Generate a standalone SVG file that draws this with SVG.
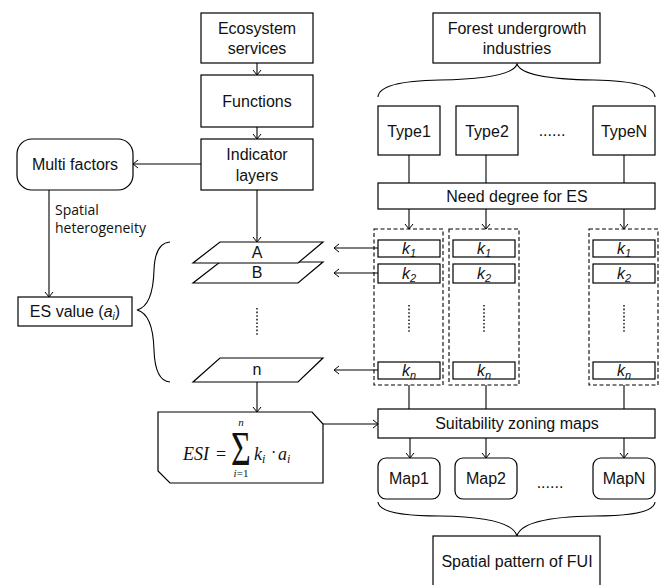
<svg xmlns="http://www.w3.org/2000/svg" width="666" height="585" viewBox="0 0 666 585">
<style>
.b{fill:#fff;stroke:#000;stroke-width:1.2}
.t{font-family:"Liberation Sans",Arial,sans-serif;font-size:16px;fill:#111;text-anchor:middle}
.c{fill:none;stroke:#000;stroke-width:1.1}
.d{fill:none;stroke:#000;stroke-width:1.1;stroke-dasharray:4,2.5}
.dots{fill:none;stroke:#222;stroke-width:1.6;stroke-dasharray:1.6,2}
.k{font-family:"Liberation Sans",Arial,sans-serif;font-size:16px;font-style:italic;fill:#111;text-anchor:middle}
.m{font-family:"Liberation Serif","Times New Roman",serif;font-style:italic;fill:#111}
.sh{font-family:"Open Sans","Noto Sans",sans-serif;font-size:14px;fill:#111}
</style>
<defs>
<marker id="ar" markerWidth="8" markerHeight="10" refX="6" refY="5" orient="auto" markerUnits="userSpaceOnUse">
<path d="M1,1 L6,5 L1,9" fill="none" stroke="#000" stroke-width="1"/>
</marker>
</defs>
<g id="connectors">
<line class="c" x1="257" y1="63" x2="257" y2="75" marker-end="url(#ar)"/>
<line class="c" x1="257" y1="127" x2="257" y2="139" marker-end="url(#ar)"/>
<line class="c" x1="201" y1="164" x2="133" y2="164" marker-end="url(#ar)"/>
<line class="c" x1="49" y1="190" x2="49" y2="297" marker-end="url(#ar)"/>
<line class="c" x1="257" y1="190" x2="257" y2="242" marker-end="url(#ar)"/>
<line class="c" x1="257" y1="382" x2="257" y2="412" marker-end="url(#ar)"/>
<line class="c" x1="378" y1="248" x2="334" y2="248" marker-end="url(#ar)"/>
<line class="c" x1="378" y1="273" x2="334" y2="273" marker-end="url(#ar)"/>
<line class="c" x1="378" y1="370" x2="334" y2="370" marker-end="url(#ar)"/>
<line class="c" x1="409" y1="155" x2="409" y2="183"/>
<line class="c" x1="486" y1="155" x2="486" y2="183"/>
<line class="c" x1="624" y1="155" x2="624" y2="183"/>
<line class="c" x1="409" y1="209" x2="409" y2="229" marker-end="url(#ar)"/>
<line class="c" x1="486" y1="209" x2="486" y2="229" marker-end="url(#ar)"/>
<line class="c" x1="624" y1="209" x2="624" y2="229" marker-end="url(#ar)"/>
<line class="c" x1="409" y1="385" x2="409" y2="409"/>
<line class="c" x1="486" y1="385" x2="486" y2="409"/>
<line class="c" x1="624" y1="385" x2="624" y2="409"/>
<line class="c" x1="323" y1="424" x2="378" y2="424" marker-end="url(#ar)"/>
<line class="c" x1="410" y1="438" x2="410" y2="458" marker-end="url(#ar)"/>
<line class="c" x1="486" y1="438" x2="486" y2="458" marker-end="url(#ar)"/>
<line class="c" x1="624" y1="438" x2="624" y2="458" marker-end="url(#ar)"/>
<path class="c" d="M378,97 Q379,81 440,80 Q512,79 517,64 Q522,79 594,80 Q654,81 655,97"/>
<path class="c" d="M378,502 Q379,516 440,516 Q512,517 517,536 Q522,517 594,516 Q654,516 655,502"/>
<path class="c" d="M170,242 Q155,243 154,270 Q153,306 137,310 Q153,314 154,350 Q155,381 170,382"/>
</g>
<g id="ecosystem-services"><rect class="b" x="201" y="13" width="112" height="50"/><text class="t" x="257" y="34">Ecosystem</text><text class="t" x="257" y="54">services</text></g>
<g id="functions"><rect class="b" x="201" y="75" width="112" height="52"/><text class="t" x="257" y="107">Functions</text></g>
<g id="indicator-layers"><rect class="b" x="201" y="139" width="112" height="51"/><text class="t" x="257" y="160">Indicator</text><text class="t" x="257" y="181">layers</text></g>
<g id="multi-factors"><rect class="b" x="17" y="139" width="116" height="51" rx="15"/><text class="t" x="75" y="170">Multi factors</text></g>
<g id="spatial-heterogeneity"><text class="sh" x="55" y="215">Spatial</text><text class="sh" x="55" y="233">heterogeneity</text></g>
<g id="es-value"><rect class="b" x="18" y="297" width="114" height="29"/><text class="t" x="75" y="317">ES value (<tspan font-style="italic">a</tspan><tspan font-style="italic" font-size="10" dy="3">i</tspan><tspan dy="-3">)</tspan></text></g>
<g id="layer-b"><polygon class="b" points="220,262 323,262 298,283 193,283"/><text class="t" x="257" y="278">B</text></g>
<g id="layer-a"><polygon class="b" points="220,242 323,242 298,263 193,263"/><text class="t" x="257" y="258">A</text></g>
<g id="layer-dots"><line class="dots" x1="257" y1="308" x2="257" y2="336"/></g>
<g id="layer-n"><polygon class="b" points="220,358 323,358 298,382 193,382"/><text class="t" x="257" y="375">n</text></g>
<g id="forest-undergrowth"><rect class="b" x="433" y="13" width="167" height="50"/><text class="t" x="517" y="34">Forest undergrowth</text><text class="t" x="517" y="54">industries</text></g>
<g id="type1"><rect class="b" x="378" y="106" width="62" height="49"/><text class="t" x="409" y="137">Type1</text></g>
<g id="type2"><rect class="b" x="456" y="106" width="62" height="49"/><text class="t" x="487" y="137">Type2</text></g>
<g id="type-dots"><text class="t" x="552" y="136">......</text></g>
<g id="typeN"><rect class="b" x="593" y="106" width="62" height="49"/><text class="t" x="624" y="137">TypeN</text></g>
<g id="need-degree"><rect class="b" x="378" y="183" width="277" height="26"/><text class="t" x="517" y="202">Need degree for ES</text></g>
<g id="k-col1"><rect class="d" x="374" y="229" width="69" height="156"/>
<rect class="b" x="378" y="240" width="62" height="17"/><text class="k" x="409" y="254">k<tspan font-size="11" dy="3">1</tspan></text>
<rect class="b" x="378" y="264" width="62" height="19"/><text class="k" x="409" y="279">k<tspan font-size="11" dy="3">2</tspan></text>
<line class="dots" x1="409" y1="305" x2="409" y2="333"/>
<rect class="b" x="378" y="362" width="62" height="17"/><text class="k" x="409" y="376">k<tspan font-size="11" dy="3">n</tspan></text></g>
<g id="k-col2"><rect class="d" x="449" y="229" width="70" height="156"/>
<rect class="b" x="453" y="240" width="62" height="17"/><text class="k" x="484" y="254">k<tspan font-size="11" dy="3">1</tspan></text>
<rect class="b" x="453" y="264" width="62" height="19"/><text class="k" x="484" y="279">k<tspan font-size="11" dy="3">2</tspan></text>
<line class="dots" x1="484" y1="305" x2="484" y2="333"/>
<rect class="b" x="453" y="362" width="62" height="17"/><text class="k" x="484" y="376">k<tspan font-size="11" dy="3">n</tspan></text></g>
<g id="k-colN"><rect class="d" x="589" y="229" width="69" height="156"/>
<rect class="b" x="593" y="240" width="62" height="17"/><text class="k" x="624" y="254">k<tspan font-size="11" dy="3">1</tspan></text>
<rect class="b" x="593" y="264" width="62" height="19"/><text class="k" x="624" y="279">k<tspan font-size="11" dy="3">2</tspan></text>
<line class="dots" x1="624" y1="305" x2="624" y2="333"/>
<rect class="b" x="593" y="362" width="62" height="17"/><text class="k" x="624" y="376">k<tspan font-size="11" dy="3">n</tspan></text></g>
<g id="esi"><polygon class="b" points="158,412 312,412 323,424 323,483 170,483 158,471"/>
<text class="m" x="183" y="460" font-size="18">ESI</text>
<text x="216" y="460" font-family="Liberation Serif,serif" font-size="18" fill="#111">=</text>
<text transform="translate(231,465) scale(1,1.45)" font-family="Liberation Serif,serif" font-size="34" fill="#111">Σ</text>
<text class="m" x="241" y="426" font-size="11" text-anchor="middle">n</text>
<text class="m" x="241" y="477" font-size="11" text-anchor="middle">i<tspan font-style="normal">=1</tspan></text>
<text class="m" x="254" y="460" font-size="18">k<tspan font-size="12" dy="3">i</tspan></text>
<text x="271" y="458" font-family="Liberation Serif,serif" font-size="16" fill="#111">·</text>
<text class="m" x="278" y="460" font-size="18">a<tspan font-size="12" dy="3">i</tspan></text></g>
<g id="suitability"><rect class="b" x="378" y="409" width="277" height="29"/><text class="t" x="517" y="429">Suitability zoning maps</text></g>
<g id="map1"><rect class="b" x="378" y="458" width="62" height="41" rx="8"/><text class="t" x="409" y="484">Map1</text></g>
<g id="map2"><rect class="b" x="455" y="458" width="62" height="41" rx="8"/><text class="t" x="486" y="484">Map2</text></g>
<g id="map-dots"><text class="t" x="550" y="488">......</text></g>
<g id="mapN"><rect class="b" x="593" y="458" width="62" height="41" rx="8"/><text class="t" x="624" y="484">MapN</text></g>
<g id="spatial-pattern"><rect class="b" x="433" y="536" width="167" height="60"/><text class="t" x="517" y="567">Spatial pattern of FUI</text></g>
</svg>
